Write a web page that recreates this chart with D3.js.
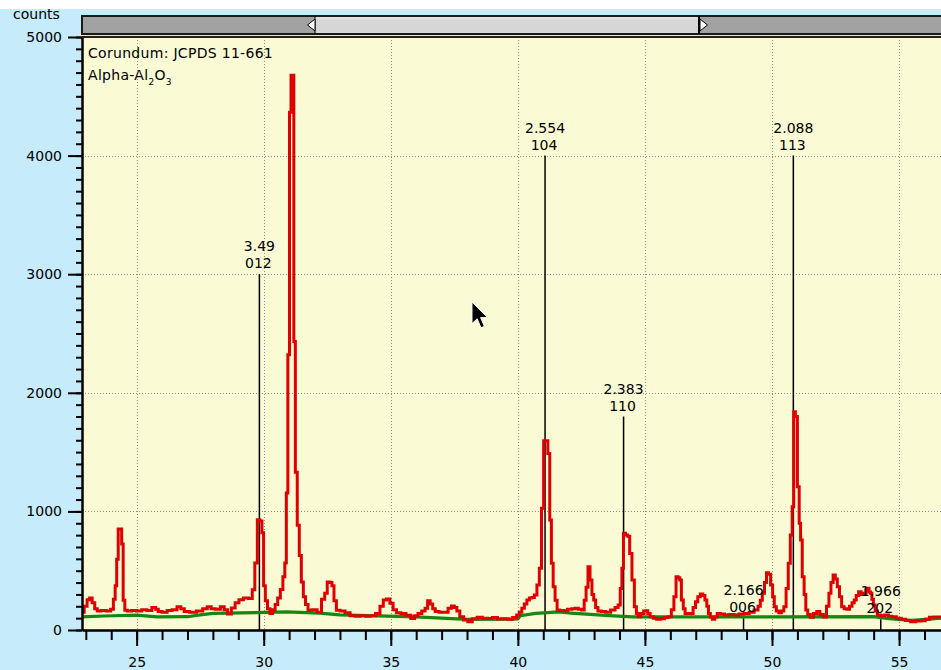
<!DOCTYPE html>
<html>
<head>
<meta charset="utf-8">
<script src="https://cdn.jsdelivr.net/npm/d3@7"></script>
<style>
  html, body { margin: 0; padding: 0; background: #ffffff; }
  svg { display: block; }
  text { font-family: "DejaVu Sans", sans-serif; fill: #000; }
</style>
</head>
<body>
<svg id="chart" width="941" height="670"></svg>
<script>
// Measured diffraction pattern (2-theta in degrees, intensity in counts)
const xrdAngle = [
  22.87, 23.0, 23.1, 23.2, 23.3, 23.4, 23.5, 23.7, 23.9, 24.05, 24.12, 24.19, 24.24, 24.31, 24.38, 24.44, 24.5, 24.57,
  24.7, 24.9, 25.1, 25.3, 25.5, 25.7, 25.8, 25.9, 26.1, 26.3, 26.5, 26.68, 26.8, 26.95, 27.2, 27.5, 27.7, 27.86,
  28.0, 28.2, 28.39, 28.5, 28.65, 28.8, 28.95, 29.1, 29.3, 29.5, 29.6, 29.7, 29.8, 29.9, 29.96, 30.03, 30.1, 30.2,
  30.29, 30.4, 30.5, 30.6, 30.71, 30.8, 30.86, 30.92, 30.98, 31.05, 31.1, 31.16, 31.21, 31.28, 31.36, 31.44, 31.52,
  31.6, 31.69, 31.8, 32.0, 32.2, 32.35, 32.45, 32.55, 32.65, 32.72, 32.81, 32.91, 33.1, 33.3, 33.5, 33.7, 33.9, 34.1,
  34.3, 34.5, 34.65, 34.76, 34.9, 35.03, 35.15, 35.3, 35.5, 35.7, 35.88, 36.0, 36.14, 36.3, 36.4, 36.5, 36.6, 36.7,
  36.8, 37.0, 37.19, 37.32, 37.45, 37.55, 37.65, 37.78, 37.95, 38.11, 38.3, 38.5, 38.7, 38.9, 39.1, 39.29, 39.5,
  39.69, 39.9, 40.01, 40.1, 40.21, 40.3, 40.41, 40.5, 40.6, 40.7, 40.8, 40.89, 40.97, 41.06, 41.14, 41.22, 41.29,
  41.35, 41.43, 41.5, 41.59, 41.7, 41.85, 42.05, 42.2, 42.31, 42.45, 42.57, 42.65, 42.72, 42.8, 42.88, 42.95, 43.02,
  43.1, 43.2, 43.36, 43.55, 43.75, 43.9, 43.99, 44.07, 44.12, 44.19, 44.28, 44.36, 44.44, 44.54, 44.63, 44.7, 44.78,
  44.9, 45.0, 45.07, 45.15, 45.26, 45.4, 45.52, 45.7, 45.85, 45.98, 46.1, 46.18, 46.27, 46.34, 46.4, 46.47, 46.55,
  46.61, 46.84, 46.95, 47.03, 47.13, 47.23, 47.32, 47.4, 47.47, 47.53, 47.62, 47.69, 47.8, 47.89, 48.05, 48.21, 48.4,
  48.61, 48.8, 49.0, 49.2, 49.4, 49.5, 49.58, 49.66, 49.75, 49.82, 49.9, 49.99, 50.06, 50.12, 50.22, 50.32, 50.42,
  50.51, 50.6, 50.68, 50.76, 50.83, 50.88, 50.96, 51.04, 51.1, 51.15, 51.23, 51.3, 51.36, 51.45, 51.56, 51.7, 51.82,
  51.95, 52.09, 52.2, 52.28, 52.36, 52.45, 52.53, 52.61, 52.7, 52.78, 52.9, 53.0, 53.1, 53.2, 53.27, 53.36, 53.46,
  53.56, 53.66, 53.73, 53.79, 53.85, 53.9, 53.96, 54.02, 54.1, 54.19, 54.35, 54.51, 54.65, 54.78, 55.0, 55.17, 55.35,
  55.56, 55.75, 55.96, 56.1, 56.29, 56.45, 56.65
];
const xrdCounts = [
  150, 200, 255, 270, 230, 180, 160, 165, 160, 175, 260, 373, 597, 852, 852, 725, 250, 166,
  160, 165, 160, 170, 165, 190, 175, 155, 150, 165, 170, 195, 180, 155, 150, 160, 180, 195,
  180, 175, 195, 170, 135, 185, 230, 255, 270, 265, 340, 565, 930, 920, 820, 373, 246, 180,
  140, 170, 214, 270, 342, 450, 565, 1156, 2321, 4365, 4678, 4678, 2433, 1331, 884, 629, 405,
  280, 214, 166, 170, 150, 260, 310, 405, 400, 373, 246, 166, 160, 145, 120, 115, 120, 115,
  120, 140, 200, 253, 261, 225, 170, 146, 140, 125, 98, 120, 140, 160, 183, 247, 220, 180,
  155, 150, 150, 183, 202, 190, 160, 112, 85, 70, 95, 107, 100, 98, 105, 93, 95,
  90, 105, 126, 150, 183, 220, 253, 270, 275, 295, 380, 520, 1026, 1596, 1596, 1489, 927,
  562, 365, 250, 169, 165, 163, 174, 180, 183, 175, 169, 250, 360, 534, 421, 300, 253,
  190, 160, 155, 150, 169, 190, 211, 350, 520, 815, 801, 790, 646, 421, 197, 140, 112,
  140, 160, 163, 140, 112, 100, 90, 95, 105, 112, 170, 281, 450, 440, 422, 253, 180,
  140, 140, 190, 239, 280, 303, 290, 253, 200, 140, 110, 90, 110, 140, 135, 126, 130,
  126, 135, 140, 150, 169, 200, 250, 309, 400, 483, 470, 379, 280, 197, 160, 146, 160,
  197, 350, 562, 800, 1040, 1841, 1800, 1208, 900, 759, 450, 300, 169, 130, 107, 140, 155,
  130, 110, 200, 309, 400, 464, 430, 365, 280, 197, 180, 174, 200, 230, 253, 290, 323,
  300, 309, 340, 351, 320, 309, 260, 211, 160, 126, 120, 126, 115, 112, 100, 90, 80,
  70, 75, 79, 90, 107, 110, 110
];

// Fitted background
const bgAngle  = [22.85, 23.7, 25.0, 25.8, 27.0, 27.5, 28.0, 30.9, 32.2, 33.0, 36.0, 37.0, 38.0, 40.0, 40.1, 40.7, 41.6, 42.1, 43.6, 44.5, 54.0, 54.6, 55.5, 56.2, 56.65];
const bgCounts = [110,   118,  125,  110,  112,  128,  140,  152,  143,  128,  110,  100,  90,   93,   120,  140,  152,  143,  122,  110,  112,  95,   82,   92,   100];

// Corundum reference lines (JCPDS 11-661)
const stickAngle  = [29.83, 41.07, 44.16, 48.88, 50.84, 54.28];
const stickCounts = [3000, 4000, 1800, 100, 4000, 90];
const stickD      = ["3.49", "2.554", "2.383", "2.166", "2.088", "1.966"];
const stickHkl    = ["012", "104", "110", "006", "113", "202"];

// Axis ticks
const xMajorTicks = [25, 30, 35, 40, 45, 50, 55];
const yMajorTicks = [0, 1000, 2000, 3000, 4000, 5000];

const svg = d3.select("#chart");
const W = 941, H = 670;
const plot = { left: 82, right: 941, top: 37, bottom: 630 };

// page background
svg.append("rect").attr("x", 0).attr("y", 0).attr("width", W).attr("height", H).attr("fill", "#c6ebfb");
svg.append("rect").attr("x", 0).attr("y", 0).attr("width", W).attr("height", 9).attr("fill", "#ffffff");

const x = d3.scaleLinear().domain([22.85, 56.65]).range([plot.left, plot.right]);
const y = d3.scaleLinear().domain([0, 5000]).range([plot.bottom, plot.top]);

// plot area
svg.append("rect")
  .attr("x", plot.left).attr("y", plot.top)
  .attr("width", plot.right - plot.left).attr("height", plot.bottom - plot.top)
  .attr("fill", "#fafad4");

svg.append("clipPath").attr("id", "plotClip").append("rect")
  .attr("x", plot.left).attr("y", plot.top)
  .attr("width", plot.right - plot.left).attr("height", plot.bottom - plot.top);

// dotted grid
const grid = svg.append("g").attr("stroke", "#8c8c8c").attr("stroke-width", 1).attr("stroke-dasharray", "1,2");
grid.selectAll("line.v").data(xMajorTicks).join("line").attr("class", "v")
  .attr("x1", d => Math.round(x(d)) + 0.5).attr("x2", d => Math.round(x(d)) + 0.5)
  .attr("y1", plot.top).attr("y2", plot.bottom);
grid.selectAll("line.h").data(yMajorTicks.filter(d => d > 0 && d < 5000)).join("line").attr("class", "h")
  .attr("y1", d => Math.round(y(d)) + 0.5).attr("y2", d => Math.round(y(d)) + 0.5)
  .attr("x1", plot.left).attr("x2", plot.right);

const layer = svg.append("g").attr("clip-path", "url(#plotClip)");

// reference sticks
layer.selectAll("line.stick").data(stickAngle).join("line").attr("class", "stick")
  .attr("x1", d => x(d)).attr("x2", d => x(d))
  .attr("y1", (d, i) => y(stickCounts[i])).attr("y2", plot.bottom)
  .attr("stroke", "#000").attr("stroke-width", 1.5);

// background curve
const bgLine = d3.line().x((d, i) => x(bgAngle[i])).y((d, i) => y(bgCounts[i])).curve(d3.curveLinear);
layer.append("path").datum(bgAngle).attr("d", bgLine)
  .attr("fill", "none").attr("stroke", "#138813").attr("stroke-width", 3.2);

// measured pattern
const xrdLine = d3.line().x((d, i) => x(xrdAngle[i])).y((d, i) => y(xrdCounts[i])).curve(d3.curveStep);
layer.append("path").datum(xrdAngle).attr("d", xrdLine)
  .attr("fill", "none").attr("stroke", "#e00000").attr("stroke-width", 3).attr("stroke-linejoin", "miter");

// stick labels: d-spacing above hkl
const lbl = svg.append("g").attr("font-size", 14).attr("text-anchor", "middle");
stickAngle.forEach((a, i) => {
  const top = y(stickCounts[i]);
  lbl.append("text").attr("x", x(a)).attr("y", top - 23).text(stickD[i]);
  lbl.append("text").attr("x", x(a) - 1).attr("y", top - 6).text(stickHkl[i]);
});

// phase legend
const leg = svg.append("g").attr("font-size", 14).attr("letter-spacing", 0.3);
leg.append("text").attr("x", 88).attr("y", 58).text("Corundum: JCPDS 11-661");
const t2 = leg.append("text").attr("x", 88).attr("y", 80);
t2.append("tspan").text("Alpha-Al");
t2.append("tspan").attr("font-size", 9).attr("dy", 5).text("2");
t2.append("tspan").attr("dy", -5).text("O");
t2.append("tspan").attr("font-size", 9).attr("dy", 5).text("3");

// axes
const xAxisMinor = d3.axisBottom(x).tickValues(d3.range(23, 57, 1)).tickSize(10).tickSizeOuter(0).tickFormat("");
const xAxisMajor = d3.axisBottom(x).tickValues(xMajorTicks).tickSize(16).tickSizeOuter(0).tickPadding(11).tickFormat(d3.format("d"));
const yAxisMinor = d3.axisLeft(y).tickValues(d3.range(0, 5001, 100)).tickSize(6).tickSizeOuter(0).tickFormat("");
const yAxisMajor = d3.axisLeft(y).tickValues(yMajorTicks).tickSize(14).tickSizeOuter(0).tickPadding(6).tickFormat(d3.format("d"));

function styleAxis(g) {
  g.selectAll("path.domain").attr("stroke", "#000").attr("stroke-width", 2);
  g.selectAll(".tick line").attr("stroke", "#000").attr("stroke-width", 2);
  g.selectAll(".tick text").attr("font-family", "DejaVu Sans").attr("font-size", 14).attr("fill", "#000");
}
svg.append("g").attr("transform", `translate(0,${plot.bottom})`).call(xAxisMinor).call(styleAxis);
svg.append("g").attr("transform", `translate(0,${plot.bottom})`).call(xAxisMajor).call(styleAxis);
svg.append("g").attr("transform", `translate(${plot.left},0)`).call(yAxisMinor).call(styleAxis);
svg.append("g").attr("transform", `translate(${plot.left},0)`).call(yAxisMajor).call(styleAxis);

// top border of the plot
svg.append("line").attr("x1", plot.left).attr("x2", plot.right).attr("y1", plot.top).attr("y2", plot.top)
  .attr("stroke", "#222").attr("stroke-width", 2);

svg.append("text").attr("x", 13).attr("y", 19).attr("font-size", 14).text("counts");

// zoom scroll bar
const bar = svg.append("g");
bar.append("rect").attr("x", 82).attr("y", 16).attr("width", 860).attr("height", 18)
  .attr("fill", "#a2a2a2").attr("stroke", "#1a1a1a").attr("stroke-width", 2);
bar.append("rect").attr("x", 315).attr("y", 17).attr("width", 383).attr("height", 16).attr("fill", "#d6d6d6");
bar.append("line").attr("x1", 315).attr("x2", 698).attr("y1", 18).attr("y2", 18).attr("stroke", "#ececec");
bar.append("line").attr("x1", 699).attr("x2", 699).attr("y1", 16).attr("y2", 34).attr("stroke", "#000").attr("stroke-width", 2);
bar.append("line").attr("x1", 315).attr("x2", 315).attr("y1", 16).attr("y2", 34).attr("stroke", "#000").attr("stroke-width", 1);
bar.append("path").attr("d", "M315,19 L307.5,25 L315,31 Z").attr("fill", "#fff").attr("stroke", "#000").attr("stroke-width", 1);
bar.append("path").attr("d", "M700,19 L707.5,25 L700,31 Z").attr("fill", "#fff").attr("stroke", "#000").attr("stroke-width", 1);

// mouse pointer
svg.append("path")
  .attr("d", "M0,0 L0,18 L4.3,14 L7.5,21.5 L10.3,20.3 L7.2,13 L13,13 Z")
  .attr("transform", "translate(472,302) scale(1.2)")
  .attr("fill", "#000").attr("stroke", "#fff").attr("stroke-width", 0.8).attr("stroke-linejoin", "miter");
</script>
</body>
</html>
